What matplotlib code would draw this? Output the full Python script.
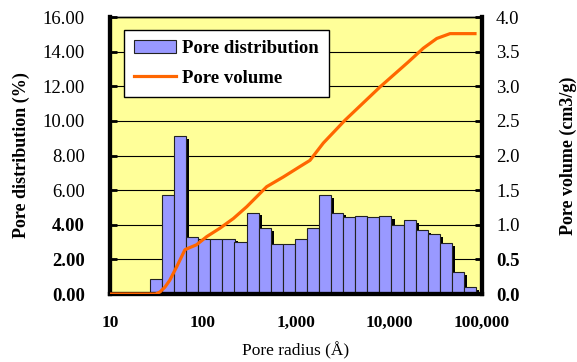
import matplotlib.pyplot as plt
import matplotlib.patheffects as pe
from matplotlib.ticker import FixedLocator, FuncFormatter
from matplotlib.patches import Patch
from matplotlib.lines import Line2D
import numpy as np

plt.rcParams['font.family'] = ['Liberation Serif', 'DejaVu Serif']

# Pore size distribution (bin centres in Angstrom, share in %)
radius_bins = [31, 42, 57, 77, 103, 139, 188, 253, 341, 460, 621, 838, 1130, 1522,
               2052, 2767, 3733, 5035, 6790, 9150, 12340, 16640, 22440, 30270,
               40830, 55080, 74300]
distribution = [0.85, 5.7, 9.1, 3.3, 3.2, 3.2, 3.2, 3.0, 4.7, 3.8, 2.9, 2.9, 3.2,
                3.8, 5.7, 4.7, 4.45, 4.5, 4.45, 4.5, 4.0, 4.25, 3.7, 3.45, 2.95,
                1.25, 0.4]

# Cumulative pore volume (cm3/g)
radius_curve = [10, 31, 34.5, 39, 44, 52, 64, 72, 85, 110, 152, 212, 295, 484, 730,
                1100, 1413, 1966, 3365, 8000, 16100, 23400, 32600, 45300, 84000]
volume = [0, 0, 0.03, 0.1, 0.2, 0.39, 0.64, 0.67, 0.71, 0.83, 0.95, 1.09, 1.26,
          1.55, 1.69, 1.84, 1.93, 2.18, 2.51, 2.99, 3.35, 3.55, 3.69, 3.76, 3.76]

x_ticks = [10, 100, 1000, 10000, 100000]
x_labels = ["10", "100", "1,000", "10,000", "100,000"]

bar_color = "#9999ff"
line_color = "#ff6600"
bg_color = "#ffff99"

fig = plt.figure(figsize=(5.77, 3.62), dpi=100)
ax = fig.add_axes([0.1906, 0.1878, 0.6448, 0.7652])
ax2 = ax.twinx()

ax.set_xscale('log')
ax.set_xlim(10, 100000)
ax.set_ylim(0, 16)
ax2.set_ylim(0, 4)
ax.set_facecolor(bg_color)

# equal-width bars on the log axis
step = 0.1298
centers = np.array(radius_bins, dtype=float)
lefts = centers / 10 ** (step / 2)
widths = centers * (10 ** (step / 2) - 10 ** (-step / 2))
bars = ax.bar(lefts, distribution, width=widths, align='edge', color=bar_color,
              edgecolor='#222222', linewidth=0.8, zorder=2)
for b in bars:
    b.set_path_effects([pe.SimplePatchShadow(offset=(2.2, -2), shadow_rgbFace='black',
                                             alpha=1.0), pe.Normal()])

ax2.plot(radius_curve, volume, color=line_color, linewidth=2.3, zorder=3)

# gridlines
for y in range(2, 16, 2):
    ax.axhline(y, color='black', linewidth=0.8, zorder=1)

ax.yaxis.set_major_locator(FixedLocator(np.arange(0, 17, 2)))
ax.yaxis.set_major_formatter(FuncFormatter(lambda v, p: f"{v:.2f}"))
ax2.yaxis.set_major_locator(FixedLocator(np.arange(0, 4.01, 0.5)))
ax2.yaxis.set_major_formatter(FuncFormatter(lambda v, p: f"{v:.1f}"))

ax.xaxis.set_major_locator(FixedLocator(x_ticks))
ax.set_xticklabels(x_labels, fontsize=12.5, fontweight='bold')
ax.xaxis.set_minor_locator(FixedLocator([]))
ax.tick_params(axis='x', length=0, pad=15)

ax.tick_params(axis='y', direction='in', length=5, width=2, labelsize=13.5, pad=18)
ax2.tick_params(axis='y', direction='in', length=5, width=2, labelsize=13.5, pad=10)

for lbl in ax.get_yticklabels():
    if lbl.get_text() in ("0.00", "2.00", "4.00"):
        lbl.set_fontweight('bold')
for lbl in ax2.get_yticklabels():
    if lbl.get_text() in ("0.0", "0.5"):
        lbl.set_fontweight('bold')

for side in ('left', 'right', 'bottom'):
    ax.spines[side].set_linewidth(3)
    ax2.spines[side].set_linewidth(3)
ax.spines['top'].set_linewidth(1)
ax2.spines['top'].set_linewidth(1)

ax.set_ylabel("Pore distribution (%)", fontsize=13, fontweight='bold', labelpad=9)
ax2.set_ylabel("Pore volume (cm3/g)", fontsize=13, fontweight='bold', labelpad=29)
ax.set_xlabel("Pore radius (Å)", fontsize=12.5, labelpad=8)

handles = [Patch(facecolor=bar_color, edgecolor='#222222', linewidth=0.8),
           Line2D([], [], color=line_color, linewidth=2.3)]
leg = ax2.legend(handles, ["Pore distribution", "Pore volume"], loc='upper left',
                 bbox_to_anchor=(0.038, 0.953), borderaxespad=0, fancybox=False,
                 framealpha=1, edgecolor='black', handlelength=2.2,
                 handletextpad=0.35, borderpad=0.55, labelspacing=0.65,
                 prop={'weight': 'bold', 'size': 13.5})
leg.get_frame().set_linewidth(1)

fig.savefig("out.png", dpi=100)
